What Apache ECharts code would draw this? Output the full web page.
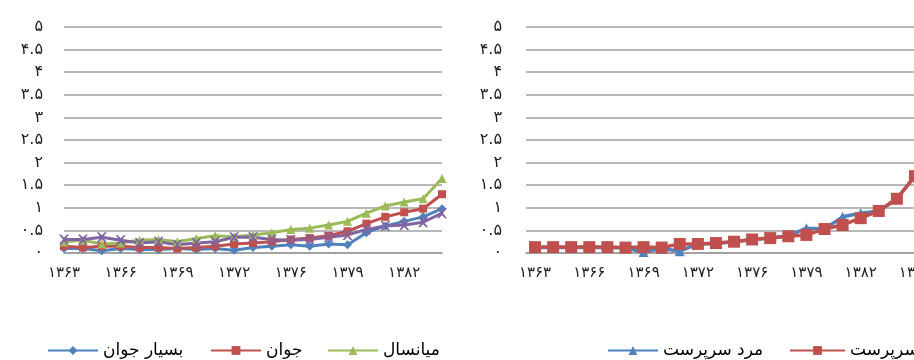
<!DOCTYPE html>
<html><head><meta charset="utf-8">
<script src="https://cdn.jsdelivr.net/npm/echarts@6/dist/echarts.min.js"></script>
<style>html,body{margin:0;padding:0;background:#fff;overflow:hidden;width:914px;height:360px}#c{width:940px;height:360px}</style>
</head><body><div id="c"></div>
<script>
// ---- data ----
const yearsLeft = ['1363','1364','1365','1366','1367','1368','1369','1370','1371','1372','1373',
  '1375','1376','1377','1378','1379','1380','1381','1382','1383','1384'];
const yearsRight = yearsLeft.concat(['1385']);

const leftNames = ['بسیار جوان', 'جوان', 'میانسال', 'مسن'];
const veryYoung = [0.10,0.10,0.05,0.10,0.08,0.08,0.10,0.08,0.10,0.06,0.12,0.15,0.18,0.15,0.20,0.18,0.45,0.60,0.70,0.80,0.98];
const young     = [0.15,0.12,0.15,0.15,0.12,0.12,0.10,0.12,0.15,0.20,0.22,0.25,0.30,0.33,0.38,0.48,0.65,0.80,0.90,0.98,1.30];
const middle    = [0.25,0.28,0.20,0.22,0.28,0.30,0.25,0.32,0.38,0.36,0.40,0.45,0.52,0.55,0.62,0.70,0.88,1.04,1.13,1.20,1.65];
const old       = [0.30,0.30,0.35,0.28,0.22,0.25,0.18,0.22,0.25,0.35,0.35,0.30,0.28,0.30,0.35,0.40,0.52,0.60,0.62,0.68,0.88];

const rightNames = ['مرد سرپرست', 'زن سرپرست'];
const maleHead   = [0.12,0.12,0.12,0.12,0.12,0.11,0.02,0.10,0.04,0.20,0.21,0.25,0.30,0.33,0.38,0.55,0.53,0.80,0.88,0.93,1.20,1.70];
const femaleHead = [0.13,0.13,0.13,0.13,0.13,0.12,0.13,0.12,0.20,0.20,0.22,0.25,0.30,0.33,0.37,0.40,0.53,0.62,0.77,0.93,1.20,1.70];

const yMin = 0, yMax = 5, yStep = 0.5;

// ---- helpers ----
const fa = s => String(s).replace(/[0-9]/g, d => '۰۱۲۳۴۵۶۷۸۹'[d]);
const FONT = 'DejaVu Sans';
const C = {blue:'#4F81BD', red:'#C0504D', green:'#9BBB59', purple:'#8064A2'};

function xAxis(gi, data, bg) {
  return {type:'category', gridIndex:gi, data:data, boundaryGap:bg,
    axisLine:{lineStyle:{color:'#9a9a9a', width:1.5}},
    axisTick:{show:false},
    axisLabel:{interval:2, color:'#222', fontFamily:FONT, fontSize:15, margin:13, formatter:v=>fa(v)}};
}
function yAxis(gi, margin) {
  return {type:'value', gridIndex:gi, min:yMin, max:yMax, interval:yStep,
    axisLine:{show:false}, axisTick:{show:false},
    splitLine:{lineStyle:{color:'#a0a0a0', width:1.5}},
    axisLabel:{color:'#222', fontFamily:FONT, fontSize:16, margin:margin, padding:[0,0,11,0],
      formatter:v=>fa(v)}};
}
function line(name, data, color, symbol, size, xi, lw) {
  return {name:name, type:'line', xAxisIndex:xi, yAxisIndex:xi, data:data,
    symbol:symbol, symbolSize:size, showSymbol:true, showAllSymbol:true,
    lineStyle:{color:color, width:lw}, itemStyle:{color:color}, z:3};
}
function leg(name, left, w) {
  return {data:[name], left:left, top:337, itemWidth:w || 50, itemHeight:11, itemGap:0,
    textStyle:{fontFamily:FONT, fontSize:17, color:'#000'}};
}

const chart = echarts.init(document.getElementById('c'), null, {renderer:'canvas'});
chart.setOption({
  animation:false,
  backgroundColor:'#fff',
  grid:[
    {left:64, top:27, width:378, height:226},
    {left:526, top:27, width:398, height:226}
  ],
  xAxis:[xAxis(0, yearsLeft, false), xAxis(1, yearsRight, true)],
  yAxis:[yAxis(0, 21), yAxis(1, 24)],
  legend:[
    leg(leftNames[0], 42), leg(leftNames[1], 205), leg(leftNames[2], 322),
    leg(rightNames[0], 602), leg(rightNames[1], 784, 55)
  ],
  series:[
    line(leftNames[0], veryYoung, C.blue, 'diamond', 9, 0, 3),
    line(leftNames[1], young, C.red, 'rect', 8, 0, 3),
    line(leftNames[2], middle, C.green, 'triangle', 9, 0, 3),
    line(leftNames[3], old, C.purple, 'path://M0,0L2,0L5,3L8,0L10,0L6,5L10,10L8,10L5,7L2,10L0,10L4,5Z', 10, 0, 3),
    line(rightNames[0], maleHead, C.blue, 'triangle', 10, 1, 3.5),
    line(rightNames[1], femaleHead, C.red, 'rect', 12, 1, 3.5)
  ]
});
</script>
</body></html>
